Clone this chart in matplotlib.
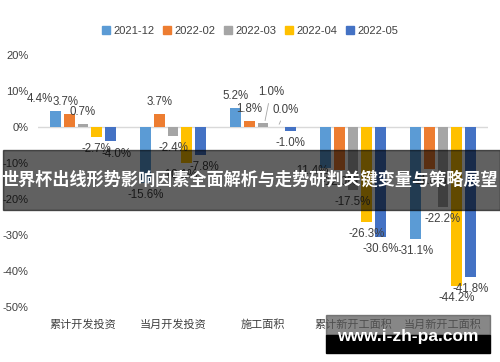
import matplotlib.pyplot as plt
from matplotlib.patches import Patch, Rectangle
import numpy as np

plt.rcParams['font.family'] = ['Liberation Sans', 'Noto Sans CJK SC']

# data
categories = ['累计开发投资', '当月开发投资', '施工面积', '累计新开工面积', '当月新开工面积']
series = ['2021-12', '2022-02', '2022-03', '2022-04', '2022-05']
s_2021_12 = [4.4, -15.6, 5.2, -11.4, -31.1]
s_2022_02 = [3.7, 3.7, 1.8, -12.0, -11.8]
s_2022_03 = [0.7, -2.4, 1.0, -17.5, -22.2]
s_2022_04 = [-2.7, -10.1, 0.0, -26.3, -44.2]
s_2022_05 = [-4.0, -7.8, -1.0, -30.6, -41.8]
values = [s_2021_12, s_2022_02, s_2022_03, s_2022_04, s_2022_05]
yticks = [20, 10, 0, -10, -20, -30, -40, -50]

colors = ['#5B9BD5', '#ED7D31', '#A5A5A5', '#FFC000', '#4472C4']
text_col = '#404040'

fig = plt.figure(figsize=(5, 3.62), dpi=100)
ax = fig.add_axes([0.076, 0.152, 0.9, 0.696])

x = np.arange(len(categories))
step = 0.153
width = 0.122

# label nudges in pixels (dx, dy), default is centered 12px past the bar end
nudge = {(0, 0): (-16, 0), (0, 1): (-4, 0), (0, 4): (6, 1),
         (1, 3): (-7, 0), (1, 4): (4, 0),
         (3, 0): (-14, -9)}

for j, vals in enumerate(values):
    xs = x + (j - 2) * step
    ax.bar(xs, vals, width, color=colors[j], zorder=2)
    for i, v in enumerate(vals):
        if (i, j) in [(2, 2), (2, 3)]:
            continue
        dx, dy = nudge.get((i, j), (0, 0))
        off = 12 if v >= 0 else -12
        ax.annotate(f'{v:.1f}%', (xs[i], v), xytext=(dx, off - dy),
                    textcoords='offset pixels', ha='center', va='center',
                    fontsize=8.3, color=text_col, zorder=3)

# leader-line labels for 施工面积
for j, (dx, dy) in [(2, (6, 30)), (3, (7, 16))]:
    xs = x[2] + (j - 2) * step
    v = values[j][2]
    ax.annotate(f'{v:.1f}%', (xs + 0.02, v + 0.4), xytext=(dx, dy),
                textcoords='offset pixels', ha='center', va='center',
                fontsize=8.3, color=text_col, zorder=3,
                arrowprops=dict(arrowstyle='-', color='#A5A5A5', lw=0.6,
                                shrinkA=2, shrinkB=1))

ax.axhline(0, color='#D9D9D9', lw=1, zorder=1)
ax.set_xlim(-0.5, 4.5)
ax.set_ylim(-50, 20)
ax.set_yticks(yticks)
ax.set_yticklabels([f'{t}%' for t in yticks])
ax.set_xticks(x)
ax.set_xticklabels(categories)
ax.tick_params(length=0, labelsize=8, colors=text_col)
ax.tick_params(axis='y', pad=7)
ax.tick_params(axis='x', pad=9)
for s in ax.spines.values():
    s.set_visible(False)

handles = [Patch(color=c) for c in colors]
fig.legend(handles, series, loc='center', bbox_to_anchor=(0.5, 0.914), ncol=5,
           frameon=False, fontsize=8, handlelength=0.7, handleheight=0.7,
           handletextpad=0.3, columnspacing=0.8, labelcolor=text_col)

# overlay banner
fig.patches.append(Rectangle((3 / 500, 152 / 362), 497 / 500, 60 / 362,
                             transform=fig.transFigure, color='black',
                             alpha=0.62, zorder=5))
fig.text(0.5, 0.503, '世界杯出线形势影响因素全面解析与走势研判关键变量与策略展望',
         ha='center', va='center', color='white', fontsize=12.3,
         fontweight='bold', family=['Noto Sans CJK SC'], zorder=6)

# watermark
fig.patches.append(Rectangle((326 / 500, 27 / 362), 164 / 500, 20 / 362,
                             transform=fig.transFigure, color='#555555',
                             alpha=0.7, zorder=5))
fig.patches.append(Rectangle((326 / 500, 9 / 362), 164 / 500, 18 / 362,
                             transform=fig.transFigure, color='black', zorder=5))
fig.text(408 / 500, 1 - 337 / 362, 'www.i-zh-pa.com', ha='center', va='center',
         color='white', fontsize=12.5, fontweight='bold', zorder=6)

fig.savefig('out.png', dpi=100)
